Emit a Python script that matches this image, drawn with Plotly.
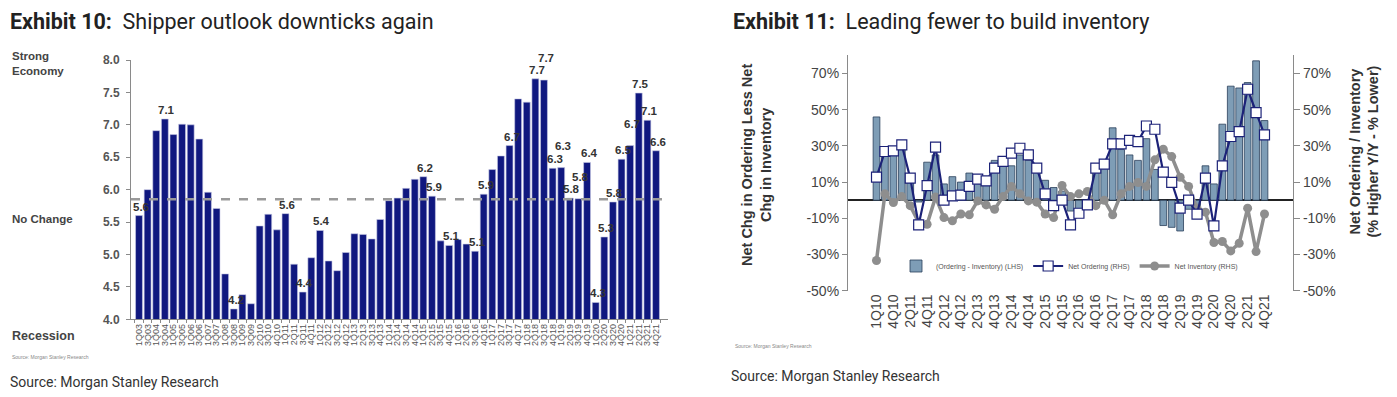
import plotly.graph_objects as go

W, H = 1397, 397

# ---------------- Exhibit 10 data ----------------
survey_periods = [
    "1Q03", "3Q03", "1Q04", "3Q04", "1Q05", "3Q05", "1Q06", "3Q06", "1Q07", "3Q07",
    "1Q08", "3Q08", "1Q09", "3Q09", "2Q10", "3Q10", "4Q10", "1Q11", "2Q11", "3Q11",
    "4Q11", "1Q12", "2Q12", "3Q12", "4Q12", "1Q13", "2Q13", "3Q13", "4Q13", "1Q14",
    "2Q14", "3Q14", "4Q14", "1Q15", "2Q15", "3Q15", "4Q15", "1Q16", "2Q16", "3Q16",
    "4Q16", "1Q17", "2Q17", "3Q17", "4Q17", "1Q18", "2Q18", "3Q18", "4Q18", "1Q19",
    "2Q19", "3Q19", "4Q19", "1Q20", "2Q20", "3Q20", "4Q20", "1Q21", "2Q21", "3Q21",
    "4Q21",
]
shipper_outlook = [
    5.60, 6.00, 6.91, 7.09, 6.85, 7.01, 7.00, 6.78, 5.96, 5.71,
    4.70, 4.16, 4.38, 4.24, 5.44, 5.62, 5.38, 5.63, 4.85, 4.42,
    4.95, 5.37, 4.90, 4.75, 5.03, 5.32, 5.31, 5.24, 5.54, 5.83,
    5.87, 6.02, 6.16, 6.20, 5.90, 5.21, 5.14, 5.23, 5.16, 5.05,
    5.93, 6.31, 6.52, 6.68, 7.40, 7.35, 7.71, 7.69, 6.33, 6.34,
    5.87, 5.86, 6.42, 4.26, 5.27, 5.81, 6.47, 6.68, 7.49, 7.07,
    6.60,
]
shipper_labels = [
    "5.6", "", "", "7.1", "", "", "", "", "", "",
    "", "4.2", "", "", "", "", "", "5.6", "", "4.4",
    "", "5.4", "", "", "", "", "", "", "", "",
    "", "", "", "6.2", "5.9", "", "5.1", "", "", "5.1",
    "5.9", "", "", "6.7", "", "", "7.7", "7.7", "6.3", "6.3",
    "5.8", "5.8", "6.4", "4.3", "5.3", "5.8", "6.5", "6.7", "7.5", "7.1",
    "6.6",
]
no_change_level = 5.85
outlook_ticks = [4.0, 4.5, 5.0, 5.5, 6.0, 6.5, 7.0, 7.5, 8.0]

# ---------------- Exhibit 11 data ----------------
quarters = [
    "1Q10", "3Q10", "4Q10", "1Q11", "2Q11", "3Q11", "4Q11", "1Q12", "2Q12", "3Q12",
    "4Q12", "1Q13", "2Q13", "3Q13", "4Q13", "1Q14", "2Q14", "3Q14", "4Q14", "1Q15",
    "2Q15", "3Q15", "4Q15", "1Q16", "2Q16", "3Q16", "4Q16", "1Q17", "2Q17", "3Q17",
    "4Q17", "1Q18", "2Q18", "3Q18", "4Q18", "1Q19", "2Q19", "3Q19", "4Q19", "1Q20",
    "2Q20", "3Q20", "4Q20", "1Q21", "2Q21", "3Q21", "4Q21",
]
ordering_less_inventory = [
    46, 25, 27, 28, 12, -1, 21, 25, 9, 13,
    10, 15, 10, 9, 22, 20, 19, 25, 22, 16,
    11, 7, 5, -6, -7, -5, 19, 18, 40, 28,
    25, 22, 34, 17, -14, -15, -17, -5, -6, 19,
    9, 42, 63, 62, 65, 77, 44,
]
net_ordering = [
    12.7, 26.9, 27.3, 30.6, 12.2, -13.6, 8.1, 29.3, 0.0, 2.4,
    2.8, 7.6, 11.6, 10.7, 17.7, 21.4, 26.0, 28.7, 25.0, 17.7,
    3.5, -3.0, 0.0, -13.6, -7.2, -2.6, 17.7, 19.9, 31.1, 31.1,
    33.0, 32.4, 41.0, 39.2, 15.5, 9.9, -4.4, 0.0, -7.7, 12.2,
    -14.2, 19.0, 35.2, 37.9, 61.3, 48.4, 36.1,
]
net_inventory = [
    -33.3, 3.5, -1.3, 2.0, -3.0, -12.3, -13.3, 1.7, -9.6, -11.4,
    -7.6, -8.1, -0.4, -2.6, -5.0, 2.0, 7.6, 3.5, -0.4, -1.1,
    -7.6, -9.6, 8.1, 2.0, 3.5, 4.8, -3.0, 0.0, -8.1, 3.5,
    7.6, 9.8, 7.6, 22.3, 28.2, 24.1, 12.7, 7.6, -4.4, -6.6,
    -23.4, -22.8, -28.0, -23.8, -4.4, -28.4, -7.6,
]
quarter_ticks = quarters[::2]
pct_ticks = [-50, -30, -10, 10, 30, 50, 70]
pct_labels = [f"{v}%" for v in pct_ticks]

# the page body has an 8px margin; compensate so that positions match
OFF = 8


def px(x):
    return (x - OFF) / W


def py(y):
    return 1 - (y - OFF) / H


ARIAL = "Liberation Sans, Arial, sans-serif"
ROBOTO = "Roboto, Arial, sans-serif"

fig = go.Figure()

# ---- Exhibit 10 bars ----
fig.add_trace(go.Bar(
    x=survey_periods, y=shipper_outlook,
    marker=dict(color="#10187f", line=dict(color="#c9cbe6", width=0.6)),
    xaxis="x", yaxis="y", showlegend=False,
))

# ---- Exhibit 11 ----
fig.add_trace(go.Bar(
    x=quarters, y=ordering_less_inventory, name="(Ordering - Inventory) (LHS)",
    marker=dict(color="#7e9db6", line=dict(color="#2a3f5a", width=0.8)),
    xaxis="x2", yaxis="y2", legendrank=1,
))
fig.add_trace(go.Scatter(
    x=quarters, y=net_inventory, name="Net Inventory (RHS)", mode="lines+markers",
    line=dict(color="#8e8e8e", width=3.5),
    marker=dict(symbol="circle", size=9, color="#8e8e8e"),
    xaxis="x2", yaxis="y3", legendrank=3,
))
fig.add_trace(go.Scatter(
    x=quarters, y=net_ordering, name="Net Ordering (RHS)", mode="lines+markers",
    line=dict(color="#1c2278", width=2.2),
    marker=dict(symbol="square", size=10, color="white", line=dict(color="#1c2278", width=1.2)),
    xaxis="x2", yaxis="y3", legendrank=2,
))

fig.update_layout(
    width=W, height=H,
    margin=dict(l=0, r=0, t=0, b=0, autoexpand=False),
    paper_bgcolor="white", plot_bgcolor="white",
    bargap=0.2,
    font=dict(family=ARIAL, color="#333333"),
    xaxis=dict(
        domain=[px(131), px(668)], anchor="y",
        tickmode="array", tickvals=survey_periods, ticktext=survey_periods,
        tickangle=-90, tickfont=dict(size=9, color="#555555"),
        showline=True, linecolor="#8a8a8a", linewidth=1,
        ticks="outside", ticklen=3, tickcolor="#8a8a8a", tickson="boundaries",
        showgrid=False, zeroline=False,
    ),
    yaxis=dict(
        domain=[py(319.3), py(60)], anchor="x", range=[4, 8],
        tickmode="array", tickvals=outlook_ticks,
        ticktext=[f"{v:.1f}" for v in outlook_ticks],
        tickfont=dict(size=12, color="#555555", weight="bold"),
        showline=True, linecolor="#8a8a8a", linewidth=1,
        ticks="outside", ticklen=4, tickcolor="#8a8a8a", ticklabelstandoff=4,
        showgrid=False, zeroline=False,
    ),
    xaxis2=dict(
        domain=[px(848), px(1293)], anchor="y2",
        tickmode="array", tickvals=quarter_ticks, ticktext=quarter_ticks,
        tickangle=-90, tickfont=dict(size=14, color="#444444"),
        showline=False, ticks="", showgrid=False, zeroline=False,
    ),
    yaxis2=dict(
        domain=[py(290.7), py(55.4)], anchor="x2", range=[-50, 80],
        tickmode="array", tickvals=pct_ticks, ticktext=pct_labels,
        tickfont=dict(size=14, color="#444444"),
        showline=True, linecolor="#8a8a8a", linewidth=1.2,
        ticks="outside", ticklen=5, tickcolor="#8a8a8a",
        showgrid=False, zeroline=True, zerolinecolor="#222222", zerolinewidth=1.5,
    ),
    yaxis3=dict(
        domain=[py(290.7), py(55.4)], anchor="x2", overlaying="y2", side="right",
        range=[-50, 80],
        tickmode="array", tickvals=pct_ticks, ticktext=pct_labels,
        tickfont=dict(size=14, color="#444444"),
        showline=True, linecolor="#8a8a8a", linewidth=1.2,
        ticks="outside", ticklen=6, tickcolor="#8a8a8a",
        showgrid=False, zeroline=False,
    ),
    legend=dict(
        orientation="h", x=px(896), y=py(266), xanchor="left", yanchor="middle",
        font=dict(size=7, color="#555555"), bgcolor="rgba(0,0,0,0)",
        itemwidth=30, tracegroupgap=0,
    ),
    shapes=[
        dict(type="line", xref="x domain", yref="y", x0=0, x1=1,
             y0=no_change_level, y1=no_change_level,
             line=dict(color="#9a9a9a", width=2.5, dash="dash")),
    ],
)

A = 2  # annotation inner padding
annotations = [
    dict(x=px(10 - A), y=py(21), text="<b>Exhibit 10:</b>  Shipper outlook downticks again",
         font=dict(family=ROBOTO, size=21.5, color="#222222")),
    dict(x=px(12 - A), y=py(63), text="<b>Strong<br>Economy</b>",
         font=dict(family=ARIAL, size=11.5, color="#444444")),
    dict(x=px(12 - A), y=py(219), text="<b>No Change</b>",
         font=dict(family=ARIAL, size=11.5, color="#444444")),
    dict(x=px(12 - A), y=py(336), text="<b>Recession</b>",
         font=dict(family=ARIAL, size=12.5, color="#444444")),
    dict(x=px(12 - A), y=py(357), text="Source: Morgan Stanley Research",
         font=dict(family=ARIAL, size=5, color="#888888")),
    dict(x=px(10 - A), y=py(382), text="Source: Morgan Stanley Research",
         font=dict(family=ROBOTO, size=14, color="#333333")),
    dict(x=px(733 - A), y=py(21), text="<b>Exhibit 11:</b>  Leading fewer to build inventory",
         font=dict(family=ROBOTO, size=21.5, color="#222222")),
    dict(x=px(735 - A), y=py(346), text="Source: Morgan Stanley Research",
         font=dict(family=ARIAL, size=5, color="#888888")),
    dict(x=px(731 - A), y=py(376), text="Source: Morgan Stanley Research",
         font=dict(family=ROBOTO, size=14, color="#333333")),
]
for a in annotations:
    a.update(xref="paper", yref="paper", xanchor="left", yanchor="middle",
             showarrow=False, align="left")

annotations += [
    dict(x=px(757), y=py(165), xref="paper", yref="paper", showarrow=False,
         text="<b>Net Chg in Ordering Less Net<br>Chg in Inventory</b>", textangle=-90,
         font=dict(family=ARIAL, size=14.5, color="#333333"), align="center"),
    dict(x=px(1383), y=py(152), xref="paper", yref="paper", showarrow=False,
         text="<b>Net Ordering / Inventory<br>(% Higher Y/Y - % Lower)</b>", textangle=-90,
         font=dict(family=ARIAL, size=14.5, color="#333333"), align="center"),
]

# value labels on the Exhibit 10 bars; neighbouring labels at a similar height are staggered
prev_shift = 0
for i, (cat, val, lab) in enumerate(zip(survey_periods, shipper_outlook, shipper_labels)):
    if not lab:
        prev_shift = 0
        continue
    shift = 0
    if i > 0 and shipper_labels[i - 1] and abs(shipper_outlook[i - 1] - val) < 0.25 and prev_shift == 0:
        shift = 13
    prev_shift = shift
    annotations.append(dict(
        x=cat, y=val, xref="x", yref="y", text=f"<b>{lab}</b>", showarrow=False,
        yanchor="bottom", xanchor="center", yshift=1 + shift, xshift=2,
        font=dict(family=ARIAL, size=11.5, color="#333333"),
    ))

fig.update_layout(annotations=annotations)

fig.write_html("out.html")
